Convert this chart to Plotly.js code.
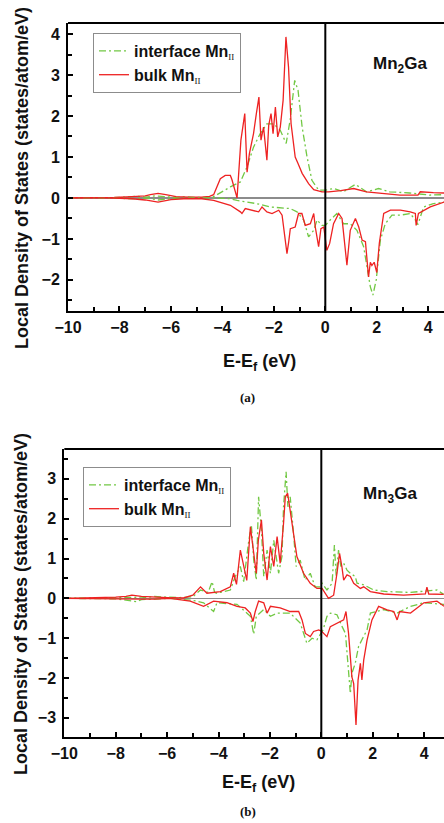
<!DOCTYPE html>
<html>
<head>
<meta charset="utf-8">
<script src="https://cdn.plot.ly/plotly-3.0.1.min.js"></script>
<style>html,body{margin:0;padding:0;background:#fff;overflow:hidden;}#chart{width:444px;height:823px;}</style>
</head>
<body>
<div id="chart"></div>
<script>
// ---------- Panel (a): Mn2Ga ----------
const aBulkUpE = [-10,-9,-8.2,-7.5,-7.0,-6.8,-6.5,-6.2,-5.8,-5.3,-4.8,-4.5,-4.34,-4.08,-3.89,-3.69,-3.63,-3.43,-3.28,-3.13,-3.04,-2.95,-2.79,-2.68,-2.58,-2.50,-2.40,-2.27,-2.20,-2.11,-2.03,-1.94,-1.85,-1.75,-1.64,-1.53,-1.43,-1.33,-1.17,-1.06,-0.90,-0.65,-0.45,-0.13,0.13,0.6,1.1,1.6,2.3,2.9,3.6,3.69,4.2,4.62];
const aBulkUp  = [0,0,0.01,0.03,0.05,0.08,0.11,0.08,0.03,0.02,0.02,0.04,0.08,0.47,0.55,0.55,0.45,0,1.41,2.06,0.63,1.08,1.57,2.06,2.46,1.41,1.73,0.92,1.77,2.06,1.57,2.22,1.49,1.73,2.38,3.93,3.2,1.81,1.0,0.84,0.6,0.35,0.2,0.15,0.15,0.18,0.23,0.15,0.1,0.07,0.07,0.15,0.13,0.12];

const aIntUpE = [-10,-8.5,-7.8,-7.3,-7.0,-6.6,-6.2,-5.8,-5.4,-5.0,-4.6,-4.34,-3.69,-3.30,-3.04,-2.79,-2.53,-2.27,-2.01,-1.75,-1.52,-1.36,-1.19,-1.06,-0.90,-0.71,-0.52,-0.26,0.0,0.32,0.7,1.17,1.6,2.07,2.5,3.28,4.05,4.62];
const aIntUp  = [0,0,0.02,0.04,0.02,0.05,0.03,0.01,0.03,0.01,0.02,0.03,0.27,0.39,0.76,1.24,1.57,1.81,1.81,1.65,1.33,1.93,2.87,2.63,1.73,1.0,0.43,0.19,0.19,0.23,0.15,0.33,0.15,0.23,0.15,0.12,0.07,0.08];

const aBulkDnE = [-10,-8.5,-7.5,-7.0,-6.5,-6.0,-5.5,-4.8,-4.34,-3.69,-3.30,-3.24,-3.11,-2.85,-2.59,-2.46,-2.27,-2.07,-1.81,-1.68,-1.55,-1.49,-1.42,-1.36,-1.17,-1.04,-0.91,-0.78,-0.58,-0.45,-0.39,-0.26,-0.17,-0.06,0.06,0.17,0.32,0.52,0.65,0.84,0.97,1.17,1.30,1.43,1.56,1.68,1.75,1.81,1.90,2.00,2.10,2.27,2.53,2.92,3.30,3.50,3.53,3.62,4.08,4.62];
const aBulkDn  = [0,0,-0.02,-0.05,-0.1,-0.04,-0.02,-0.02,-0.06,-0.18,-0.34,-0.38,-0.26,-0.30,-0.34,-0.22,-0.34,-0.38,-0.30,-0.42,-1.11,-1.36,-1.06,-0.75,-0.71,-0.38,-0.38,-0.67,-0.63,-0.38,-0.71,-1.19,-0.75,-0.71,-1.28,-1.11,-0.63,-0.38,-0.50,-1.64,-0.79,-0.50,-0.71,-1.03,-1.07,-1.93,-1.57,-1.65,-1.57,-1.82,-1.10,-0.38,-0.30,-0.30,-0.34,-0.38,-0.67,-0.38,-0.22,-0.10];

const aIntDnE = [-10,-8.5,-7.5,-7.0,-6.5,-6.0,-5.0,-4.3,-3.69,-3.43,-2.66,-2.14,-1.36,-1.10,-0.84,-0.65,-0.45,-0.32,-0.13,0.0,0.19,0.45,0.71,0.97,1.23,1.49,1.75,1.85,1.98,2.14,2.33,2.59,2.92,3.30,3.50,3.60,3.82,4.20,4.62];
const aIntDn  = [0,0,-0.02,0.0,-0.05,-0.02,0.0,0.0,-0.02,-0.06,-0.14,-0.22,-0.26,-0.34,-0.54,-0.95,-0.79,-0.54,-0.67,-0.67,-0.54,-0.38,-0.63,-0.63,-0.79,-1.19,-2.17,-2.37,-2.00,-1.03,-0.63,-0.42,-0.42,-0.38,-0.54,-0.65,-0.22,-0.14,-0.10];

// ---------- Panel (b): Mn3Ga ----------
const bBulkUpE = [-10,-9,-8,-7.6,-7.37,-7.0,-6.5,-6.0,-5.36,-5.0,-4.7,-4.45,-3.93,-3.54,-3.41,-3.30,-3.15,-3.02,-2.90,-2.76,-2.63,-2.53,-2.45,-2.33,-2.24,-2.11,-1.98,-1.85,-1.72,-1.60,-1.47,-1.40,-1.31,-1.23,-1.14,-1.05,-0.95,-0.69,-0.43,-0.17,0.03,0.28,0.48,0.61,0.71,0.80,0.87,1.00,1.13,1.26,1.52,1.65,1.91,2.43,3.20,4.05,4.11,4.18,4.76];
const bBulkUp  = [0,0.01,0.03,0.05,0.08,0.05,0.03,0.02,0.01,0.08,0.29,0.13,0.17,0.29,0.63,0.35,1.21,0.79,0.45,1.80,1.21,0.63,1.46,1.97,1.13,0.46,1.30,0.80,1.55,0.88,1.88,2.55,2.64,2.30,1.88,1.46,1.05,0.63,0.38,0.25,0.25,0.0,0.08,0.63,1.13,0.80,0.46,0.59,0.55,0.38,0.25,0.29,0.17,0.11,0.08,0.11,0.28,0.11,0.10];

const bIntUpE = [-10,-9,-8,-7.5,-7.0,-6.8,-6.5,-6.0,-5.5,-5.0,-4.7,-4.40,-4.25,-4.15,-4.06,-3.54,-3.35,-3.15,-3.02,-2.82,-2.72,-2.63,-2.53,-2.44,-2.33,-2.24,-2.11,-1.98,-1.85,-1.66,-1.53,-1.47,-1.37,-1.30,-1.21,-1.08,-0.98,-0.82,-0.63,-0.43,-0.24,-0.04,0.03,0.22,0.42,0.51,0.58,0.67,0.76,0.87,1.00,1.13,1.32,1.39,1.65,2.04,2.56,3.47,4.50,4.76];
const bIntUp  = [0,0.01,0.02,0.04,0.03,0.02,0.05,0.03,0.02,0.04,0.21,0.15,0.42,0.15,0.13,0.21,0.55,0.80,0.42,1.46,1.84,0.96,0.46,2.55,1.72,0.55,1.21,0.63,1.46,0.63,1.05,2.30,3.18,2.30,2.55,1.63,0.80,0.96,0.46,0.63,0.29,0.29,0.38,0.21,0.38,1.34,0.55,1.21,0.80,0.88,0.71,0.63,0.55,0.38,0.34,0.21,0.17,0.15,0.21,0.10];

const bBulkDnE = [-10,-9,-8,-7,-6.5,-5.88,-5.10,-4.58,-4.19,-3.67,-3.28,-2.96,-2.76,-2.66,-2.57,-2.44,-2.24,-2.11,-1.98,-1.60,-1.21,-0.88,-0.75,-0.62,-0.43,-0.30,-0.10,0.02,0.22,0.35,0.61,0.87,0.96,1.06,1.19,1.26,1.35,1.43,1.52,1.58,1.65,1.78,1.97,2.23,2.56,2.82,2.95,3.05,3.47,3.99,4.50,4.78];
const bBulkDn  = [0,0,-0.01,-0.02,-0.02,0,-0.07,-0.20,-0.07,-0.11,-0.20,-0.24,-0.37,-0.58,-0.33,-0.07,-0.11,-0.37,-0.20,-0.24,-0.33,-0.33,-0.54,-0.88,-0.96,-0.83,-0.79,-0.83,-0.96,-0.71,-0.63,-0.54,-0.33,-0.88,-1.97,-2.14,-3.18,-2.05,-1.63,-2.05,-1.55,-1.05,-0.54,-0.20,-0.29,-0.33,-0.54,-0.33,-0.37,-0.11,-0.07,-0.20];

const bIntDnE = [-10,-9,-8,-7.2,-7.0,-6.5,-5.88,-5.0,-4.58,-4.19,-4.06,-3.28,-2.76,-2.63,-2.53,-2.24,-1.98,-1.72,-1.21,-0.82,-0.56,-0.36,-0.17,0.07,0.22,0.35,0.61,0.81,0.94,1.13,1.19,1.32,1.45,1.58,1.78,1.91,2.43,2.95,3.47,3.99,4.78];
const bIntDn  = [0,0,-0.01,-0.08,-0.03,-0.02,0,-0.05,-0.11,-0.33,-0.11,-0.15,-0.45,-0.90,-0.45,-0.28,-0.45,-0.37,-0.37,-0.62,-1.13,-1.00,-1.04,-0.79,-0.45,-0.37,-0.41,-0.71,-0.88,-2.39,-1.88,-1.63,-1.21,-1.04,-0.79,-0.37,-0.28,-0.37,-0.20,-0.11,-0.15];

// ---------- Labels ----------
const seriesNames = ['interface Mn', 'bulk Mn'];
const subLabel = 'II';
const panelTitles = ['Mn<sub>2</sub>Ga', 'Mn<sub>3</sub>Ga'];
const panelTags = ['(a)', '(b)'];
const yTitle = 'Local Density of States (states/atom/eV)';
const xTitle = 'E-E<sub>f</sub> (eV)';

const RED = '#ee2222';
const GREEN = '#72c844';
const FONT = 'Liberation Sans, Arial, sans-serif';
const nameHtml = n => n + '<sub><span style="font-family:Liberation Serif;font-weight:normal;font-size:9px">' + subLabel + '</span></sub>';

function tr(x, y, color, dash, xa, ya, name, show, leg) {
  return {x: x, y: y, type: 'scatter', mode: 'lines', xaxis: xa, yaxis: ya,
    name: name, showlegend: show, legend: leg,
    line: {color: color, width: 1.3, dash: dash}};
}
const DD = '7px,3px,2px,3px';
const data = [
  tr(aIntUpE, aIntUp, GREEN, DD, 'x', 'y', nameHtml(seriesNames[0]), true, 'legend'),
  tr(aBulkUpE, aBulkUp, RED, 'solid', 'x', 'y', nameHtml(seriesNames[1]), true, 'legend'),
  tr(aIntDnE, aIntDn, GREEN, DD, 'x', 'y', '', false, 'legend'),
  tr(aBulkDnE, aBulkDn, RED, 'solid', 'x', 'y', '', false, 'legend'),
  tr(bIntUpE, bIntUp, GREEN, DD, 'x2', 'y2', nameHtml(seriesNames[0]), true, 'legend2'),
  tr(bBulkUpE, bBulkUp, RED, 'solid', 'x2', 'y2', nameHtml(seriesNames[1]), true, 'legend2'),
  tr(bIntDnE, bIntDn, GREEN, DD, 'x2', 'y2', '', false, 'legend2'),
  tr(bBulkDnE, bBulkDn, RED, 'solid', 'x2', 'y2', '', false, 'legend2')
];

const tickFont = {family: FONT, size: 16, color: '#111', weight: 700};
function xax(domain, range, anchor) {
  return {domain: domain, range: range, anchor: anchor, dtick: 2, tick0: 0,
    ticks: 'inside', ticklen: 5, tickwidth: 2, tickcolor: '#000',
    showline: true, linewidth: 2, linecolor: '#000', showgrid: false, zeroline: false,
    tickfont: tickFont, ticklabelstandoff: 1,
    minor: {dtick: 1, ticks: 'inside', ticklen: 4, tickwidth: 2, tickcolor: '#000', showgrid: false}};
}
function yax(domain, range, anchor) {
  return {domain: domain, range: range, anchor: anchor, dtick: 1, tick0: 0,
    ticks: 'inside', ticklen: 5, tickwidth: 2, tickcolor: '#000',
    showline: true, linewidth: 2, linecolor: '#000', showgrid: false,
    zeroline: true, zerolinecolor: '#8c8c8c', zerolinewidth: 1.2,
    tickfont: tickFont, ticklabelstandoff: 3,
    minor: {dtick: 0.5, ticks: 'inside', ticklen: 4, tickwidth: 2, tickcolor: '#000', showgrid: false}};
}
function legend(x, y) {
  return {x: x, y: y, xanchor: 'left', yanchor: 'top', bgcolor: 'rgba(255,255,255,0)',
    bordercolor: '#8c8c8c', borderwidth: 1, font: {family: FONT, size: 16, color: '#111', weight: 700},
    tracegroupgap: 0, itemwidth: 30};
}
const W = 444, H = 823;
const ann = (x, y, text, opts) => Object.assign({xref: 'paper', yref: 'paper', x: x / W, y: 1 - y / H,
  text: text, showarrow: false, xanchor: 'center', yanchor: 'middle',
  font: {family: FONT, size: 18, color: '#111', weight: 700}}, opts || {});
const tagFont = {family: 'Liberation Serif, serif', size: 13, color: '#111', weight: 700};
const titleFont = {family: FONT, size: 17, color: '#111', weight: 700};

const layout = {
  width: W, height: H, margin: {l: 0, r: 0, t: 0, b: 0},
  paper_bgcolor: '#fff', plot_bgcolor: '#fff',
  xaxis: xax([68 / W, 1], [-10, 4.613], 'y'),
  yaxis: yax([1 - 311 / H, 1 - 23 / H], [-2.76, 4.27], 'x'),
  xaxis2: xax([64.3 / W, 1], [-10, 4.774], 'y2'),
  yaxis2: yax([1 - 737 / H, 1 - 449 / H], [-3.48, 3.75], 'x2'),
  legend: legend(93 / W, 1 - 33 / H),
  legend2: legend(83 / W, 1 - 467 / H),
  shapes: [
    {type: 'line', xref: 'x domain', yref: 'y domain', x0: 0, x1: 1, y0: 1, y1: 1, line: {color: '#000', width: 2}},
    {type: 'line', xref: 'x2 domain', yref: 'y2 domain', x0: 0, x1: 1, y0: 1, y1: 1, line: {color: '#000', width: 2}},
    {type: 'line', xref: 'x', yref: 'y domain', x0: 0, x1: 0, y0: 0, y1: 1, line: {color: '#000', width: 2}},
    {type: 'line', xref: 'x2', yref: 'y2 domain', x0: 0, x1: 0, y0: 0, y1: 1, line: {color: '#000', width: 2}}
  ],
  annotations: [
    ann(22, 178, yTitle, {textangle: -90}),
    ann(21, 604, yTitle, {textangle: -90}),
    ann(259, 362, xTitle),
    ann(258, 783, xTitle),
    ann(248, 397, panelTags[0], {font: tagFont}),
    ann(248, 811, panelTags[1], {font: tagFont}),
    ann(400, 65, panelTitles[0], {font: titleFont}),
    ann(390, 495, panelTitles[1], {font: titleFont})
  ]
};
Plotly.newPlot('chart', data, layout, {staticPlot: true, displayModeBar: false});
</script>
</body>
</html>
